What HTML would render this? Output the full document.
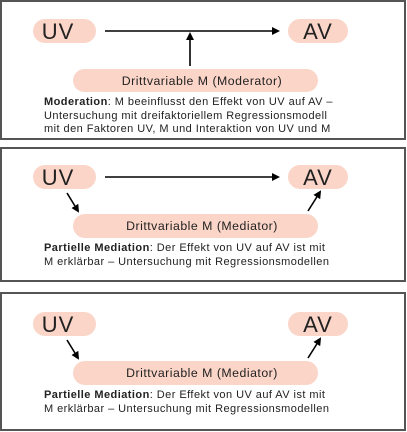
<!DOCTYPE html>
<html><head><style>
body{margin:0;width:407px;height:432px;background:#fff;font-family:"Liberation Sans",sans-serif;}
svg{position:absolute;left:0;top:0}
.t{position:absolute;left:44px;font-size:11px;letter-spacing:0.45px;line-height:13.5px;color:#222;white-space:nowrap}
.t b{font-weight:600}
</style></head><body>
<svg width="407" height="432">
<defs><marker id="a" markerWidth="8" markerHeight="8" refX="6" refY="4" orient="auto" markerUnits="userSpaceOnUse"><path d="M0,0 L8,4 L0,8 z" fill="#000"/></marker></defs>
<g fill="none" stroke="#555" stroke-width="2">
<rect x="1" y="1" width="404" height="138"/>
<rect x="1" y="148" width="404" height="133"/>
<rect x="1" y="293" width="404" height="137"/>
</g>
<g fill="#fbd5c8">
<rect x="33" y="19" width="63" height="24" rx="12"/>
<rect x="288" y="19" width="60" height="24" rx="12"/>
<rect x="73" y="69" width="245" height="23" rx="11.5"/>
<rect x="33" y="165" width="63" height="24" rx="12"/>
<rect x="288" y="165" width="60" height="24" rx="12"/>
<rect x="73" y="214" width="245" height="24" rx="12"/>
<rect x="33" y="312" width="63" height="24" rx="12"/>
<rect x="288" y="312" width="60" height="24" rx="12"/>
<rect x="73" y="361" width="245" height="24" rx="12"/>
</g>
<g stroke="#000" stroke-width="1.6" marker-end="url(#a)">
<line x1="105" y1="31" x2="278" y2="31"/>
<line x1="190" y1="66" x2="190" y2="34"/>
<line x1="105" y1="177" x2="278" y2="177"/>
<line x1="67" y1="193" x2="78" y2="211"/>
<line x1="308" y1="211" x2="320" y2="192"/>
<line x1="67" y1="340" x2="78" y2="358"/>
<line x1="308" y1="358" x2="320" y2="339"/>
</g>
<g font-family="Liberation Sans,sans-serif" fill="#222" text-anchor="middle">
<g font-size="22" letter-spacing="1">
<text x="58" y="39">UV</text><text x="318" y="39">AV</text>
<text x="58" y="185">UV</text><text x="318" y="185">AV</text>
<text x="58" y="332">UV</text><text x="318" y="332">AV</text>
</g>
<g font-size="12.3" letter-spacing="0.5">
<text x="202" y="85">Drittvariable M (Moderator)</text>
<text x="202" y="230">Drittvariable M (Mediator)</text>
<text x="202" y="377">Drittvariable M (Mediator)</text>
</g>
</g>
</svg>
<div class="t" style="top:96px"><b>Moderation</b>: M beeinflusst den Effekt von UV auf AV –<br>Untersuchung mit dreifaktoriellem Regressionsmodell<br>mit den Faktoren UV, M und Interaktion von UV und M</div>
<div class="t" style="top:242px"><b>Partielle Mediation</b>: Der Effekt von UV auf AV ist mit<br>M erklärbar – Untersuchung mit Regressionsmodellen</div>
<div class="t" style="top:389px"><b>Partielle Mediation</b>: Der Effekt von UV auf AV ist mit<br>M erklärbar – Untersuchung mit Regressionsmodellen</div>
</body></html>
